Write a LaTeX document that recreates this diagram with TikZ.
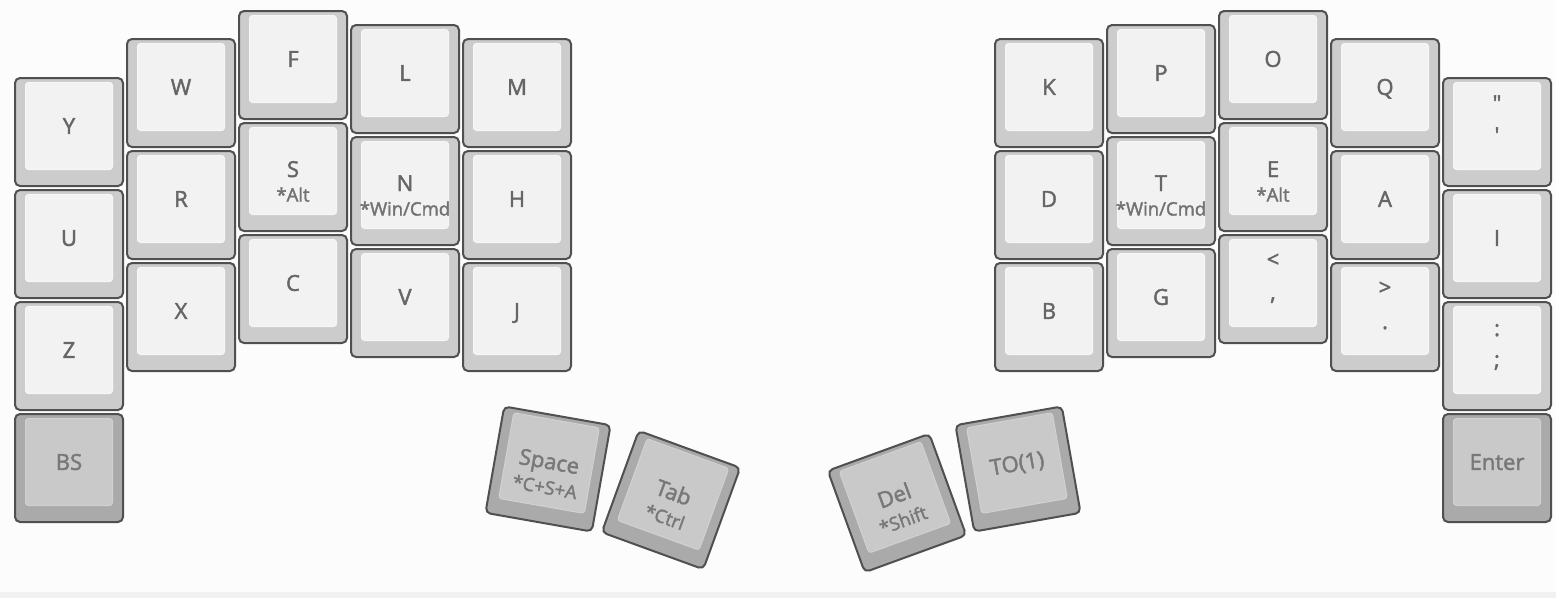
\documentclass[tikz,border=0pt]{standalone}
\usepackage{fontspec}
\setmainfont{Open Sans}[FakeBold=2]
\definecolor{keyline}{HTML}{505050}
\definecolor{keyside}{HTML}{CCCCCC}
\definecolor{keytop}{HTML}{F2F2F2}
\definecolor{keyrim}{HTML}{F7F7F7}
\definecolor{modside}{HTML}{AAAAAA}
\definecolor{modtop}{HTML}{C9C9C9}
\definecolor{modrim}{HTML}{D1D1D1}
\definecolor{keytext}{HTML}{666666}
\definecolor{subtext}{HTML}{737373}
\definecolor{modtext}{HTML}{787878}
\definecolor{paper}{HTML}{FCFCFC}
\definecolor{strip}{HTML}{F1F1F1}
\begin{document}
\begin{tikzpicture}[x=1pt,y=-1pt,
  alphakey/.style={draw=keyline,fill=keyside,line width=2pt,rounded corners=5pt,minimum size=108pt,inner sep=0pt},
  modkey/.style={alphakey,fill=modside},
  keyface/.style={draw=keyrim,fill=keytop,line width=1pt,rounded corners=3pt,minimum size=87pt,inner sep=0pt,text=keytext,font=\fontsize{22pt}{26pt}\selectfont,text height=15.7pt,text depth=0pt},
  modface/.style={keyface,draw=modrim,fill=modtop,text=modtext},
  keylbl/.style={anchor=base,inner sep=0pt,text=keytext,font=\fontsize{22pt}{26pt}\selectfont},
  keysub/.style={anchor=base,inner sep=0pt,text=subtext,font=\fontsize{18.5pt}{22pt}\selectfont},
  modlbl/.style={keylbl,text=modtext},
  modsub/.style={keysub,text=modtext}]
\useasboundingbox (0,0) rectangle (1556,598);
\fill[paper] (0,0) rectangle (1556,592);
\fill[strip] (0,592) rectangle (1556,598);
\node[alphakey] (Y) at (69,132) {};
\node[keyface] (Y-top) at (69,126) {Y};
\node[alphakey] (U) at (69,244) {};
\node[keyface] (U-top) at (69,238) {U};
\node[alphakey] (Z) at (69,356) {};
\node[keyface] (Z-top) at (69,350) {Z};
\node[modkey] (BS) at (69,468) {};
\node[modface] (BS-top) at (69,462) {BS};
\node[alphakey] (W) at (181,93) {};
\node[keyface] (W-top) at (181,87) {W};
\node[alphakey] (R) at (181,205) {};
\node[keyface] (R-top) at (181,199) {R};
\node[alphakey] (X) at (181,317) {};
\node[keyface] (X-top) at (181,311) {X};
\node[alphakey] (F) at (293,65) {};
\node[keyface] (F-top) at (293,59) {F};
\node[alphakey] (S) at (293,177) {};
\node[keyface] (S-top) at (293,171) {};
\node[keylbl] (S-lbl) at (293,177) {S};
\node[keysub] (S-sub) at (293,201.5) {*Alt};
\node[alphakey] (C) at (293,289) {};
\node[keyface] (C-top) at (293,283) {C};
\node[alphakey] (L) at (405,79) {};
\node[keyface] (L-top) at (405,73) {L};
\node[alphakey] (N) at (405,191) {};
\node[keyface] (N-top) at (405,185) {};
\node[keylbl] (N-lbl) at (405,191) {N};
\node[keysub] (N-sub) at (405,215.5) {*Win/Cmd};
\node[alphakey] (V) at (405,303) {};
\node[keyface] (V-top) at (405,297) {V};
\node[alphakey] (M) at (517,93) {};
\node[keyface] (M-top) at (517,87) {M};
\node[alphakey] (H) at (517,205) {};
\node[keyface] (H-top) at (517,199) {H};
\node[alphakey] (J) at (517,317) {};
\node[keyface] (J-top) at (517,311) {J};
\node[alphakey] (K) at (1049,93) {};
\node[keyface] (K-top) at (1049,87) {K};
\node[alphakey] (D) at (1049,205) {};
\node[keyface] (D-top) at (1049,199) {D};
\node[alphakey] (B) at (1049,317) {};
\node[keyface] (B-top) at (1049,311) {B};
\node[alphakey] (P) at (1161,79) {};
\node[keyface] (P-top) at (1161,73) {P};
\node[alphakey] (T) at (1161,191) {};
\node[keyface] (T-top) at (1161,185) {};
\node[keylbl] (T-lbl) at (1161,191) {T};
\node[keysub] (T-sub) at (1161,215.5) {*Win/Cmd};
\node[alphakey] (G) at (1161,303) {};
\node[keyface] (G-top) at (1161,297) {G};
\node[alphakey] (O) at (1273,65) {};
\node[keyface] (O-top) at (1273,59) {O};
\node[alphakey] (E) at (1273,177) {};
\node[keyface] (E-top) at (1273,171) {};
\node[keylbl] (E-lbl) at (1273,177) {E};
\node[keysub] (E-sub) at (1273,201.5) {*Alt};
\node[alphakey] (lt) at (1273,289) {};
\node[keyface] (lt-top) at (1273,283) {};
\node[keylbl] (lt-shift) at (1273,267) {<};
\node[keylbl] (lt-lbl) at (1273,300) {,};
\node[alphakey] (Q) at (1385,93) {};
\node[keyface] (Q-top) at (1385,87) {Q};
\node[alphakey] (A) at (1385,205) {};
\node[keyface] (A-top) at (1385,199) {A};
\node[alphakey] (gt) at (1385,317) {};
\node[keyface] (gt-top) at (1385,311) {};
\node[keylbl] (gt-shift) at (1385,295) {>};
\node[keylbl] (gt-lbl) at (1385,329) {.};
\node[alphakey] (quote) at (1497,132) {};
\node[keyface] (quote-top) at (1497,126) {};
\node[keylbl] (quote-shift) at (1497,111) {\textquotedbl};
\node[keylbl] (quote-lbl) at (1497,143) {\textquotesingle};
\node[alphakey] (I) at (1497,244) {};
\node[keyface] (I-top) at (1497,238) {I};
\node[alphakey] (colon) at (1497,356) {};
\node[keyface] (colon-top) at (1497,350) {};
\node[keylbl] (colon-shift) at (1497,336) {:};
\node[keylbl] (colon-lbl) at (1497,367) {;};
\node[modkey] (Enter) at (1497,468) {};
\node[modface] (Enter-top) at (1497,462) {Enter};
\begin{scope}[shift={(548,469)},rotate=-10,transform shape]
\node[modkey] (Space) at (0,0) {};
\node[modface] (Space-top) at (0,-6) {};
\node[modlbl] (Space-lbl) at (0,0) {Space};
\node[modsub] (Space-sub) at (0,25) {*C+S+A};
\end{scope}
\begin{scope}[shift={(671,500)},rotate=-20,transform shape]
\node[modkey] (Tab) at (0,0) {};
\node[modface] (Tab-top) at (0,-6) {};
\node[modlbl] (Tab-lbl) at (0,0) {Tab};
\node[modsub] (Tab-sub) at (0,25) {*Ctrl};
\end{scope}
\begin{scope}[shift={(897,503)},rotate=20,transform shape]
\node[modkey] (Del) at (0,0) {};
\node[modface] (Del-top) at (0,-6) {};
\node[modlbl] (Del-lbl) at (0,0) {Del};
\node[modsub] (Del-sub) at (0,25) {*Shift};
\end{scope}
\begin{scope}[shift={(1018,469)},rotate=10,transform shape]
\node[modkey] (TO) at (0,0) {};
\node[modface] (TO-top) at (0,-6) {TO(1)};
\end{scope}
\end{tikzpicture}
\end{document}
